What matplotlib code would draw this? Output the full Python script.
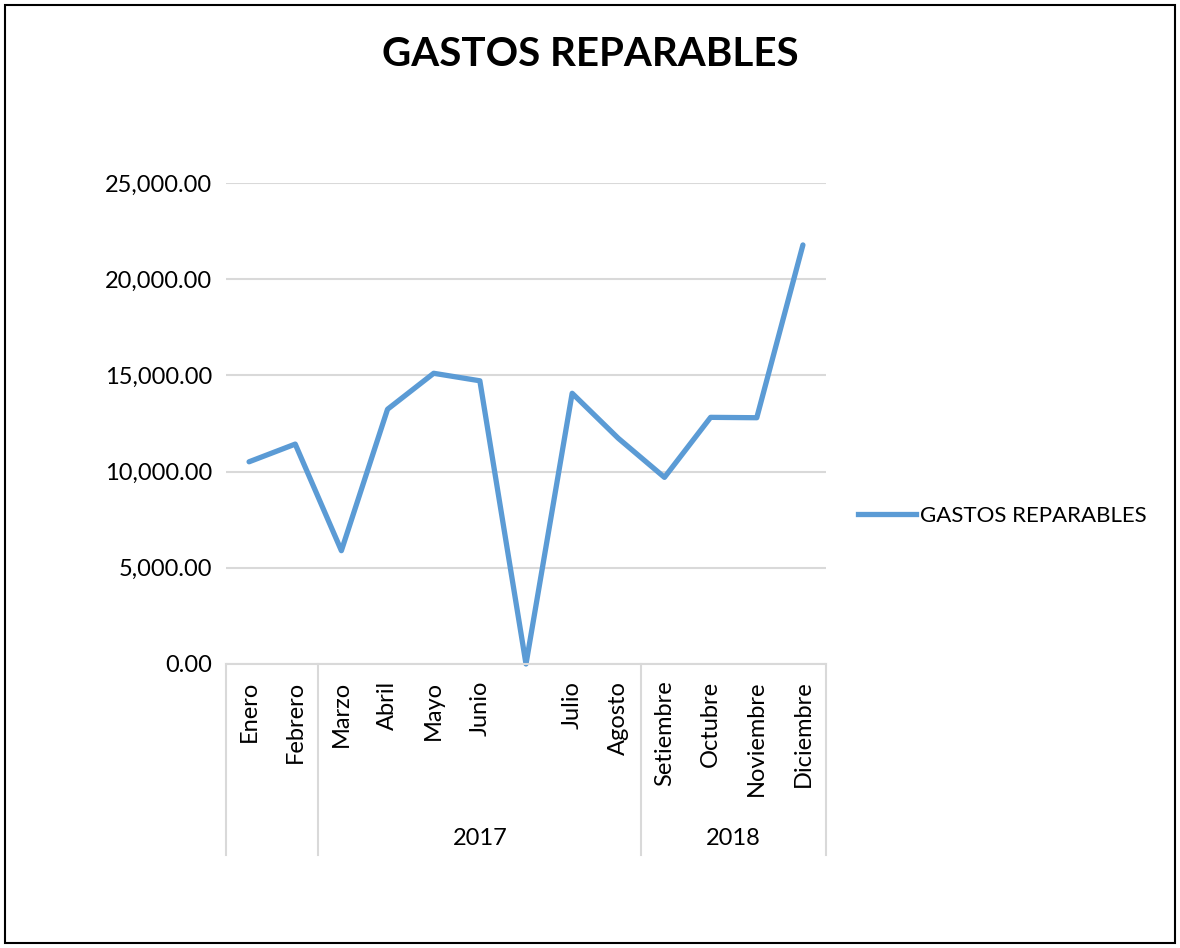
import matplotlib.pyplot as plt
from matplotlib.patches import Rectangle
from matplotlib.lines import Line2D

plt.rcParams['font.family'] = ['Lato', 'DejaVu Sans']

meses = ['Enero', 'Febrero', 'Marzo', 'Abril', 'Mayo', 'Junio', '',
         'Julio', 'Agosto', 'Setiembre', 'Octubre', 'Noviembre', 'Diciembre']
gastos = [10510, 11430, 5890, 13240, 15110, 14720, 0,
          14070, 11730, 9700, 12820, 12800, 21780]
# year groups: (label, first index, last index)
grupos = [('', 0, 1), ('2017', 2, 8), ('2018', 9, 12)]
yticks = [0, 5000, 10000, 15000, 20000, 25000]

azul = '#5b9bd5'
gris = '#d9d9d9'
fs = 17

fig = plt.figure(figsize=(11.8, 9.48), dpi=100)
ax = fig.add_axes([226 / 1180, 1 - 664 / 948, 600 / 1180, 481 / 948])

x = list(range(len(meses)))
ax.plot(x, gastos, color=azul, lw=3.8, solid_joinstyle='round',
        solid_capstyle='round', label='GASTOS REPARABLES', clip_on=False)

ax.set_xlim(-0.5, len(meses) - 0.5)
ax.set_ylim(0, 25000)
ax.set_yticks(yticks)
ax.set_yticklabels([f'{v:,.2f}' for v in yticks], fontsize=fs)
ax.yaxis.grid(True, color=gris, lw=1.5)
ax.set_axisbelow(True)
ax.tick_params(axis='y', length=0, pad=10)

ax.set_xticks(x)
ax.set_xticklabels(meses, rotation=90, fontsize=fs, va='top')
ax.tick_params(axis='x', length=0, pad=12)

for s in ['top', 'right', 'left']:
    ax.spines[s].set_visible(False)
ax.spines['bottom'].set_color(gris)
ax.spines['bottom'].set_linewidth(1.5)

# multi-level category axis: separators and year labels
tr = ax.get_xaxis_transform()
bordes = [grupos[0][1] - 0.5] + [g[2] + 0.5 for g in grupos]
for b in bordes:
    ax.plot([b, b], [0, -0.397], color=gris, lw=1.5, transform=tr, clip_on=False)
for nombre, i0, i1 in grupos:
    ax.text((i0 + i1) / 2, -0.362, nombre, transform=tr, ha='center',
            va='center', fontsize=fs)

fig.text(0.5, 1 - 55 / 948, 'GASTOS REPARABLES', ha='center', va='center',
         fontsize=29, fontweight='bold')

leg_line = Line2D([], [], color=azul, lw=3.8)
fig.legend([leg_line], ['GASTOS REPARABLES'], loc='center left',
           bbox_to_anchor=(838 / 1180, 1 - 516 / 948), frameon=False,
           fontsize=16, handlelength=2.6, handletextpad=0.2)

fig.add_artist(Rectangle((5 / 1180, 5 / 948), 1170 / 1180, 938 / 948,
                         transform=fig.transFigure, fill=False,
                         edgecolor='black', lw=1.5))

fig.savefig('out.png', dpi=100)
